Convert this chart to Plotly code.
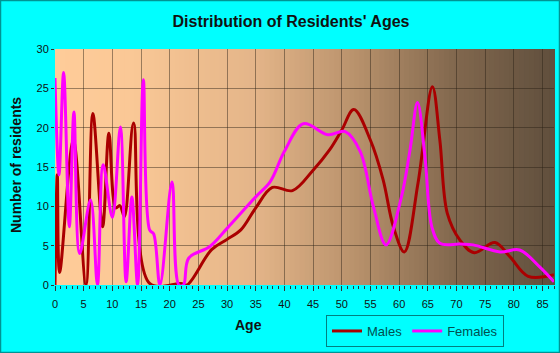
import plotly.graph_objects as go

# ---- data ----
male_age = [0, 0.4, 0.8, 3.2, 5.4, 6.6, 8.3, 9.4, 10.6, 11.3, 12.1, 13.7, 16.5, 22, 23,
            27.3, 30, 32.4, 35, 37.9, 41.4, 45, 47.9, 50, 52.1, 55, 57.2, 59, 60.9, 63.3,
            65.8, 67.1, 68.4, 70.6, 73.1, 76.7, 79.3, 82.5, 87]
male_val = [0, 14, 1.6, 18.4, 0, 21.8, 7.4, 19.3, 9.8, 10.1, 8.7, 20.6, 0.2, 0.2, 0,
            4.5, 5.8, 7.0, 9.8, 12.4, 12.0, 14.6, 17.2, 19.7, 22.3, 18.4, 13.4, 7.4, 4.2, 13,
            25.2, 18.4, 9.1, 5.7, 4.1, 5.4, 3.6, 1.1, 1.3]

female_age = [0, 0.7, 1.5, 2.5, 3.3, 4.3, 6.2, 7.4, 8.4, 10.0, 11.4, 12.4, 13.4, 14.4, 15.4,
              16.5, 17.2, 18.3, 20.4, 21.6, 22.4, 23.3, 27, 30, 35, 37.5, 40, 43.3, 47.6,
              50.6, 53.2, 55.5, 57.7, 60.4, 61.9, 63.2, 64.5, 65.7, 67.1, 70.6, 72.9, 77.6,
              81, 84.5, 87]
female_val = [26.3, 14, 27, 7.4, 22, 4, 10.8, 0, 15.3, 8.6, 20.1, 0.4, 11.2, 0, 26.1,
              7, 6.5, 0, 13.1, 0, 0, 3.4, 4.9, 7.2, 11.2, 13.1, 17, 20.5, 19.1,
              19.5, 17.0, 10.0, 5.1, 11.2, 17.2, 23.2, 16.3, 7.4, 5.3, 5.2, 5.1, 4.2,
              4.45, 2.3, 0.4]

x_ticks = list(range(0, 90, 5))
y_ticks = list(range(0, 35, 5))

W, H = 560, 353
L, R, T, B = 55, 6, 49, 68
pw, ph = W - L - R, H - T - B

fig = go.Figure()
fig.add_trace(go.Scatter(x=male_age, y=male_val, name="Males", mode="lines",
                         line=dict(color="#AA0000", width=3, shape="spline", smoothing=1.0)))
fig.add_trace(go.Scatter(x=female_age, y=female_val, name="Females", mode="lines",
                         line=dict(color="#FF00FF", width=3, shape="spline", smoothing=1.0)))

# gradient background strips
stops = [(0.0, (255, 204, 153)), (0.15, (250, 200, 150)), (0.4, (228, 181, 137)),
         (0.6, (185, 146, 108)), (0.8, (130, 104, 78)), (1.0, (96, 79, 61))]

def col(t):
    for (t0, c0), (t1, c1) in zip(stops[:-1], stops[1:]):
        if t0 <= t <= t1:
            f = (t - t0) / (t1 - t0)
            return "rgb(%d,%d,%d)" % tuple(round(a + (b - a) * f) for a, b in zip(c0, c1))
    return "rgb(%d,%d,%d)" % stops[-1][1]

shapes = []
N = 100
for i in range(N):
    shapes.append(dict(type="rect", xref="paper", yref="paper", layer="below",
                       x0=i / N, x1=(i + 1) / N + 0.002, y0=0, y1=1,
                       fillcolor=col((i + 0.5) / N), line=dict(width=0)))
# outer border
shapes.append(dict(type="rect", xref="paper", yref="paper", layer="above",
                   x0=(-L + 0.5) / pw, x1=(W - L - 0.5) / pw,
                   y0=(-B + 0.5) / ph, y1=(H - B - 0.5) / ph,
                   line=dict(color="#009494", width=1.5)))

fig.update_layout(
    width=W, height=H,
    margin=dict(l=L, r=R, t=T, b=B),
    paper_bgcolor="#00FFFF",
    plot_bgcolor="rgba(0,0,0,0)",
    shapes=shapes,
    title=dict(text="<b>Distribution of Residents' Ages</b>", x=291 / W, xanchor="center",
               y=1 - 21 / H, yanchor="middle", yref="container",
               font=dict(family="Arial, Liberation Sans", size=16, color="#111111")),
    xaxis=dict(range=[0, 87], tickvals=x_ticks, showgrid=True,
               gridcolor="rgba(40,30,20,0.45)", gridwidth=1, zeroline=False,
               ticks="outside", ticklen=5, tickcolor="#333333", tickwidth=1,
               ticklabelstandoff=4,
               minor=dict(dtick=1, ticks="outside", ticklen=3, tickcolor="#333333", showgrid=False),
               tickfont=dict(family="Arial, Liberation Sans", size=11, color="#111111"),
               showline=False),
    yaxis=dict(range=[0, 30], tickvals=y_ticks, showgrid=True,
               gridcolor="rgba(40,30,20,0.45)", gridwidth=1, zeroline=False,
               ticks="outside", ticklen=3, tickcolor="#333333",
               tickfont=dict(family="Arial, Liberation Sans", size=11, color="#111111"),
               showline=False),
    legend=dict(orientation="h", x=(415 - L) / pw, y=(H - B - 315) / ph,
                xanchor="center", yanchor="top", bgcolor="rgba(0,0,0,0)",
                bordercolor="#008080", borderwidth=1, itemwidth=30,
                font=dict(family="Arial, Liberation Sans", size=13, color="#004f4f")),
    annotations=[
        dict(text="<b>Number of residents</b>", xref="paper", yref="paper",
             x=(16 - L) / pw, y=(H - B - 165) / ph, textangle=-90, showarrow=False,
             xanchor="center", yanchor="middle",
             font=dict(family="Arial, Liberation Sans", size=14, color="#111111")),
        dict(text="<b>Age</b>", xref="paper", yref="paper",
             x=(248 - L) / pw, y=(H - B - 325) / ph, showarrow=False,
             xanchor="center", yanchor="middle",
             font=dict(family="Arial, Liberation Sans", size=14, color="#111111")),
    ],
)

fig.write_html("out.html")
